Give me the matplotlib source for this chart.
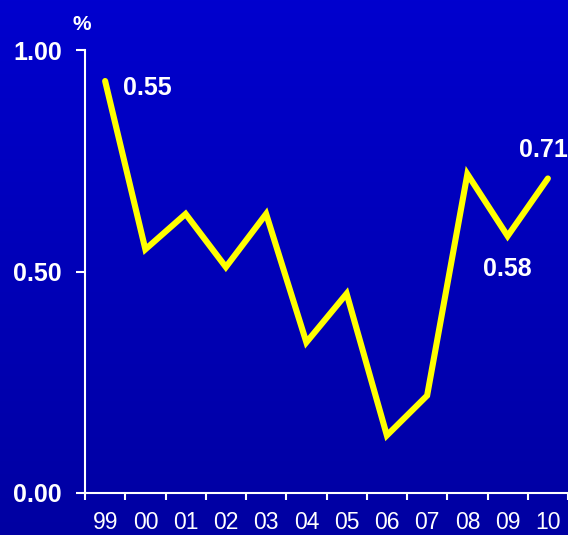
import numpy as np
import matplotlib
matplotlib.use("Agg")
import matplotlib.pyplot as plt

years = ["99", "00", "01", "02", "03", "04", "05", "06", "07", "08", "09", "10"]
values = [0.93, 0.55, 0.63, 0.51, 0.63, 0.34, 0.45, 0.13, 0.22, 0.72, 0.58, 0.71]
yticks = [0.0, 0.5, 1.0]
ytick_labels = ["0.00", "0.50", "1.00"]
annotations = [(0, "0.55"), (11, "0.71"), (10, "0.58")]

plt.rcParams['font.family'] = ['Liberation Sans', 'DejaVu Sans']

fig = plt.figure(figsize=(5.68, 5.35), dpi=100)

# gradient background
bg = fig.add_axes([0, 0, 1, 1], zorder=-10)
grad = np.linspace(0, 1, 256).reshape(-1, 1)
top = np.array([0, 0, 206]) / 255
bot = np.array([0, 0, 162]) / 255
img = top[None, None, :] * (1 - grad[:, :, None]) + bot[None, None, :] * grad[:, :, None]
bg.imshow(img, aspect='auto', extent=[0, 1, 0, 1])
bg.axis('off')

ax = fig.add_axes([85 / 568, 42 / 535, 483 / 568, 443 / 535])
ax.patch.set_alpha(0)
x = np.arange(len(years))
ax.plot(x, values, color='#FFFF00', lw=4.4, solid_capstyle='round', solid_joinstyle='miter', clip_on=False)

ax.set_xlim(-0.5, len(years) - 0.5)
ax.set_ylim(0, 1.0)
ax.set_xticks(np.arange(-0.5, len(years) + 0.5, 1.0))
ax.set_xticklabels([])
ax.set_xticks(x, minor=True)
ax.set_xticklabels(years, minor=True)
ax.tick_params(axis='x', which='major', length=5, width=1.5, color='white', direction='out')
ax.tick_params(axis='x', which='minor', length=0, pad=13, labelsize=16.5, labelcolor='white')
ax.set_yticks(yticks)
ax.set_yticklabels(ytick_labels, fontweight='bold')
ax.tick_params(axis='y', length=6.5, width=1.5, color='white', pad=10, labelsize=18, labelcolor='white')

for side in ['top', 'right']:
    ax.spines[side].set_visible(False)
for side in ['left', 'bottom']:
    ax.spines[side].set_color('white')
    ax.spines[side].set_linewidth(1.5)

offsets = {0: (13, -5), 11: (-3, 20.5), 10: (0, -23.5)}
for i, txt in annotations:
    dx, dy = offsets[i]
    ha = 'left' if i == 0 else 'center'
    ax.annotate(txt, (x[i], values[i]), xytext=(dx, dy), textcoords='offset points',
                color='white', fontsize=18, fontweight='bold', ha=ha, va='center',
                annotation_clip=False)

fig.text(82 / 568, 1 - 24 / 535, "%", color='white', fontsize=15, fontweight='bold',
         ha='center', va='center')

fig.savefig("out.png", dpi=100)
